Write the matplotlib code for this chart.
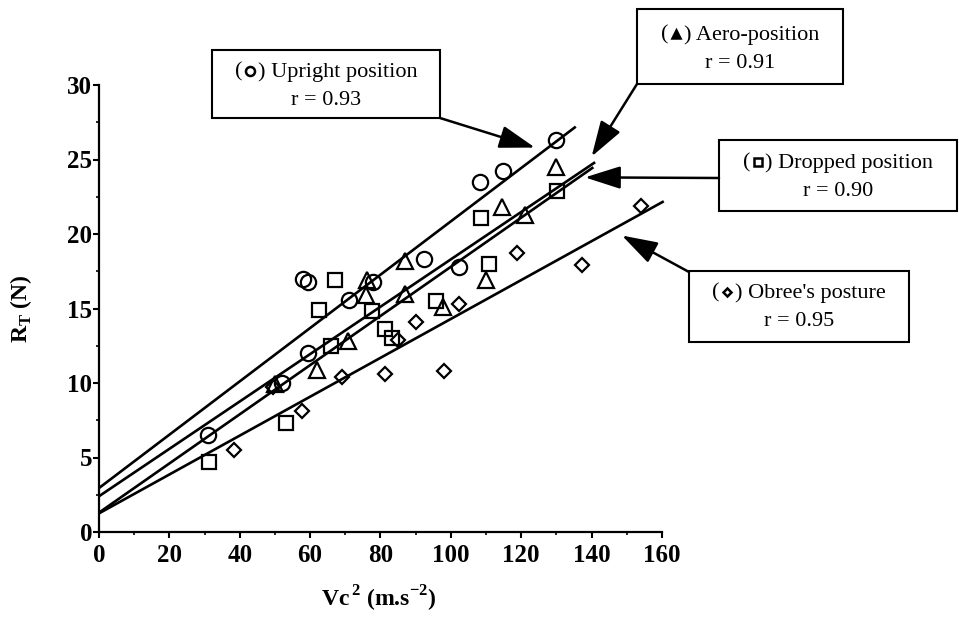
import matplotlib
matplotlib.use("Agg")
import matplotlib.pyplot as plt
from matplotlib.patches import Rectangle
from matplotlib.lines import Line2D
from matplotlib.ticker import MultipleLocator
from matplotlib.offsetbox import (TextArea, DrawingArea, HPacker, VPacker,
                                  AnnotationBbox)

plt.rcParams['font.family'] = ['Liberation Serif', 'DejaVu Sans']
plt.rcParams['mathtext.fontset'] = 'custom'
plt.rcParams['mathtext.rm'] = 'Liberation Serif'
plt.rcParams['mathtext.bf'] = 'Liberation Serif:bold'

# data: Vc^2 (m.s-2) vs RT (N)
upright_x = [31, 52, 58, 59.5, 59.4, 71, 78, 92.3, 102.2, 108.4, 114.7, 130]
upright_y = [6.5, 10.0, 17.0, 16.8, 12.0, 15.6, 16.8, 18.3, 17.8, 23.5, 24.2, 26.3]

aero_x = [50, 62, 70.7, 75.8, 76.2, 86.9, 87.1, 97.8, 110, 114.6, 121.1, 130]
aero_y = [9.9, 10.9, 12.8, 15.9, 16.9, 18.2, 16.0, 15.1, 16.9, 21.8, 21.3, 24.5]

dropped_x = [31.4, 53.2, 62.4, 65.9, 67.1, 77.5, 81.3, 83.2, 95.9, 108.5, 110.7, 130.2]
dropped_y = [4.7, 7.3, 14.9, 12.5, 16.9, 14.8, 13.6, 13.0, 15.5, 21.1, 18.0, 22.9]

obree_x = [38.4, 49.5, 57.7, 69, 81.2, 85, 90.2, 98, 102.2, 118.8, 137.2, 153.9]
obree_y = [5.5, 9.7, 8.1, 10.4, 10.6, 12.9, 14.1, 10.8, 15.3, 18.7, 17.9, 21.9]

# fitted lines: intercept, slope, x end
fit_intercept = [2.95, 2.4, 1.3, 1.25]
fit_slope = [0.179, 0.159, 0.165, 0.1305]
fit_xend = [135.5, 141, 140.5, 160.5]

markers = ['o', '^', 's', 'D']
marker_sizes = [11, 11, 10.5, 7.5]
series = [(upright_x, upright_y), (aero_x, aero_y),
          (dropped_x, dropped_y), (obree_x, obree_y)]

box_names = ["Upright position", "Aero-position", "Dropped position",
             "Obree's posture"]
box_r = ["r = 0.93", "r = 0.91", "r = 0.90", "r = 0.95"]
# small symbols inside the boxes
sym_marker = ['o', '^', 's', 'D']
sym_size = [6.5, 5.5, 6.0, 4.5]
sym_filled = [False, True, False, False]
# arrow tips in data units
arrow_tips = [(123.9, 25.8), (140.0, 25.2), (138.1, 23.8), (148.6, 19.9)]

W, H = 959, 623
fig = plt.figure(figsize=(W / 100, H / 100), dpi=100)
ax = fig.add_axes([99 / W, 91 / H, 563 / W, 447 / H])


def px(x, y):
    # pixel (top-left origin) -> figure fraction
    return x / W, 1 - y / H


for (xs, ys), m, ms in zip(series, markers, marker_sizes):
    ax.plot(xs, ys, linestyle='none', marker=m, markersize=ms,
            markerfacecolor='none', markeredgecolor='black',
            markeredgewidth=1.6, clip_on=False)

for b, k, xe in zip(fit_intercept, fit_slope, fit_xend):
    ax.plot([0, xe], [b, b + k * xe], color='black', lw=1.9,
            solid_capstyle='butt', clip_on=False)

ax.set_xlim(0, 160)
ax.set_ylim(0, 30)
ax.xaxis.set_major_locator(MultipleLocator(20))
ax.xaxis.set_minor_locator(MultipleLocator(10))
ax.yaxis.set_major_locator(MultipleLocator(5))
ax.yaxis.set_minor_locator(MultipleLocator(2.5))
for s in ['top', 'right']:
    ax.spines[s].set_visible(False)
for s in ['left', 'bottom']:
    ax.spines[s].set_linewidth(1.6)
ax.tick_params(which='major', length=4, width=1.5, direction='out')
ax.tick_params(which='minor', length=2.5, width=1.2, direction='out')
ax.tick_params(axis='x', pad=5)
ax.tick_params(axis='y', pad=1)
for lab in ax.get_xticklabels() + ax.get_yticklabels():
    lab.set_fontsize(18)
    lab.set_fontweight('bold')

ax.set_xlabel(r"Vc$^{\,\mathbf{2}}$ (m.s$^{\mathbf{-2}}$)", fontsize=17,
              fontweight='bold')
ax.xaxis.set_label_coords(0.497, -0.115)
ax.set_ylabel(r"R$_{\mathbf{T}}$ (N)", fontsize=17, fontweight='bold')
ax.yaxis.set_label_coords(-0.115, 0.5)

# annotation boxes (pixel layout): x0, y0, x1, y1, text centre y, arrow start
boxes = [(212, 50, 440, 118, 86, (440, 118)),
         (637, 9, 843, 84, 49, (637, 84)),
         (719, 140, 957, 211, 177, (719, 178)),
         (689, 271, 909, 342, 307, (689, 272))]

tp = dict(fontsize=16, color='black')
for i, (x0, y0, x1, y1, cy, start) in enumerate(boxes):
    fx0, fy1 = px(x0, y1)
    fx1, fy0 = px(x1, y0)
    fig.add_artist(Rectangle((fx0, fy1), fx1 - fx0, fy0 - fy1,
                             transform=fig.transFigure, fill=False,
                             edgecolor='black', lw=1.5))

    da = DrawingArea(9, 8, 0, 0)
    da.add_artist(Line2D([4.5], [4.2], marker=sym_marker[i],
                         markersize=sym_size[i], markeredgewidth=1.8,
                         markeredgecolor='black',
                         markerfacecolor='black' if sym_filled[i] else 'none'))
    row1 = HPacker(children=[TextArea("(", textprops=tp), da,
                             TextArea(") " + box_names[i], textprops=tp)],
                   align='baseline', pad=0, sep=1)
    row2 = TextArea(box_r[i], textprops=tp)
    block = VPacker(children=[row1, row2], align='center', pad=0, sep=6.5)
    fig.add_artist(AnnotationBbox(block, px((x0 + x1) / 2, cy),
                                  xycoords='figure fraction', frameon=False,
                                  box_alignment=(0.5, 0.5)))

    ax.annotate("", xy=arrow_tips[i], xycoords='data', xytext=px(*start),
                textcoords='figure fraction',
                arrowprops=dict(arrowstyle='-|>,head_length=1.1,head_width=0.35',
                                mutation_scale=20, lw=1.8, color='black',
                                shrinkA=0, shrinkB=0))

fig.savefig("out.png", dpi=100)
